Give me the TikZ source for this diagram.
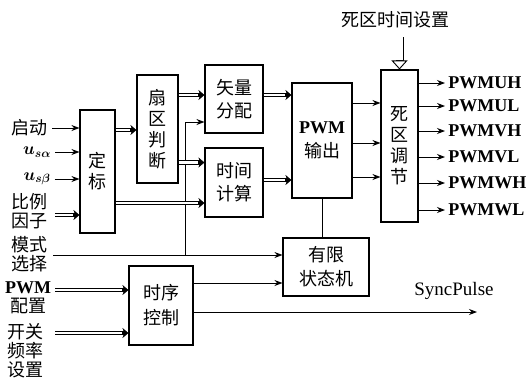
\documentclass[tikz,border=0pt]{standalone}
\usepackage{fontspec}
\usepackage{bm}
\setmainfont{Liberation Serif}
\newfontfamily\cjk{Noto Sans CJK SC}
\usetikzlibrary{arrows.meta}

\tikzset{
  blk/.style={draw, line width=1.1pt, align=center, inner sep=0pt,
    font=\cjk\fontsize{18}{21}\selectfont},
  lbl/.style={align=center, inner sep=0pt, font=\cjk\fontsize{18}{19}\selectfont},
  sig/.style={-{Stealth[length=8pt,width=6pt]}, line width=0.9pt},
  dbl/.style={line width=4.4pt, -{Stealth[length=6pt, width=10pt, line width=0.4pt]},
    postaction={draw=white, line width=2.6pt, arrows=-, shorten >=6pt}},
  bigarr/.style={line width=8pt, -{Triangle[length=9pt, width=16pt, fill=white, line width=0.9pt]},
    postaction={draw=white, line width=6.2pt, arrows=-, shorten >=9.5pt}},
}
\newcommand{\lat}[1]{{\rmfamily\bfseries #1}}

\begin{document}
\begin{tikzpicture}[x=1pt, y=-1pt]
    \useasboundingbox (0,0) rectangle (528,384);
    % Blocks
    \node[blk, minimum width=35, minimum height=123] (dingbiao) at (97.5,171.5) {定\\标};
    \node[blk, minimum width=41, minimum height=108] (shanqu) at (157.5,129) {扇\\区\\判\\断};
    \node[blk, minimum width=58, minimum height=68, font=\cjk\fontsize{18}{23}\selectfont] (shiliang) at (234,99) {矢量\\分配};
    \node[blk, minimum width=58, minimum height=69, font=\cjk\fontsize{18}{23}\selectfont] (shijian) at (234,182.5) {时间\\计算};
    \node[blk, minimum width=60, minimum height=115, font=\cjk\fontsize{18}{24}\selectfont] (pwm) at (322,140.5) {\lat{PWM}\\输出};
    \node[blk, minimum width=37, minimum height=152] (sigu) at (399.5,146) {死\\区\\调\\节};
    \node[blk, minimum width=86, minimum height=58, font=\cjk\fontsize{18}{24}\selectfont] (fsm) at (326,267) {有限\\状态机};
    \node[blk, minimum width=64, minimum height=79, font=\cjk\fontsize{18}{25}\selectfont] (shixu) at (161,305.5) {时序\\控制};

    % Inputs on the left
    \node[lbl] (qidong) at (30,128) {启动};
    \node[lbl, font=\fontsize{18}{20}\selectfont] (usa) at (37,152) {$\bm{u_{s\alpha}}$};
    \node[lbl, font=\fontsize{18}{20}\selectfont] (usb) at (37,179) {$\bm{u_{s\beta}}$};
    \node[lbl] (bili) at (29,211) {比例\\因子};
    \node[lbl] (moshi) at (29,254) {模式\\选择};
    \node[lbl] (peizhi) at (28,298) {\lat{PWM}\\配置};
    \node[lbl] (kaiguan) at (26,351) {开关\\频率\\设置};
    \coordinate (bilis) at (55,215);
    \coordinate (moshis) at (53,255);
    \coordinate (peizhis) at (55,290);
    \coordinate (kaiguans) at (55,333);
    \coordinate (fork) at (185,255);

    \draw[sig] ([xshift=4pt]qidong.east) -- (qidong.east -| dingbiao.west);
    \draw[sig] ([xshift=4pt]usa.east) -- (usa.east -| dingbiao.west);
    \draw[sig] ([xshift=4pt]usb.east) -- (usb.east -| dingbiao.west);
    \draw[dbl] (bilis) -- (bilis -| dingbiao.west);
    \draw[dbl] (peizhis) -- (peizhis -| shixu.west);
    \draw[dbl] (kaiguans) -- (kaiguans -| shixu.west);

    % Mode select goes to the FSM and up to vector assignment
    \draw[sig] (moshis) -- (moshis -| fsm.west);
    \draw[sig] (fork) |- ([yshift=-23pt]shiliang.west);

    % Scaling and sector outputs
    \draw[dbl] ([yshift=41.5pt]dingbiao.east) -- ([yshift=41.5pt]dingbiao.east -| shanqu.west);
    \draw[dbl] ([yshift=-31.5pt]dingbiao.east) -- ([yshift=-31.5pt]dingbiao.east -| shijian.west);
    \draw[dbl] ([yshift=4pt]shiliang.west -| shanqu.east) -- ([yshift=4pt]shiliang.west);
    \draw[dbl] ([yshift=20pt]shijian.west -| shanqu.east) -- ([yshift=20pt]shijian.west);
    \draw[dbl] ([yshift=4pt]shiliang.east) -- ([yshift=4pt]shiliang.east -| pwm.west);
    \draw[dbl] ([yshift=2.5pt]shijian.east) -- ([yshift=2.5pt]shijian.east -| pwm.west);

    % PWM to dead zone
    \foreach \dy in {37.5, -2.5, -36.5}
        \draw[sig] ([yshift=\dy pt]pwm.east) -- ([yshift=\dy pt]pwm.east -| sigu.west);
    \draw[line width=0.9pt] (pwm.south) -- (pwm.south |- fsm.north);

    % Timing control outputs
    \draw[sig] ([yshift=22.5pt]shixu.east) -- ([yshift=22.5pt]shixu.east -| fsm.west);
    \coordinate (sync) at (477,312);
    \draw[sig] (sync -| shixu.east) -- (sync);
    \node[font=\fontsize{19}{20}\selectfont] (syncp) at (454,291) {SyncPulse};

    % Dead time setting
    \node[lbl, font=\cjk\fontsize{18}{20}\selectfont] (sqset) at (395,20) {死区时间设置};
    \draw[bigarr] ([yshift=-9pt]sqset.south -| sigu.north) -- (sigu.north);

    % Outputs
    \foreach \nm/\yy in {PWMUH/83, PWMUL/106, PWMVH/131, PWMVL/157, PWMWH/183, PWMWL/210}
        \draw[sig] (sigu.east |- 0,\yy) -- (445,\yy)
            node[right=3pt, inner sep=0pt, font=\bfseries\fontsize{18}{20}\selectfont] (\nm) {\nm};
\end{tikzpicture}
\end{document}
